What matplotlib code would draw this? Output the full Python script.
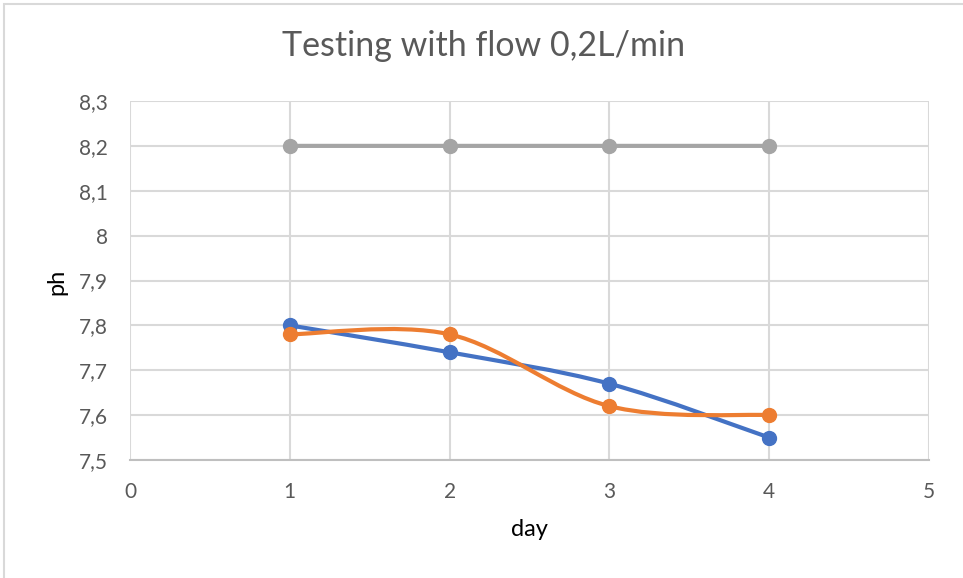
import numpy as np
import matplotlib.pyplot as plt
from matplotlib.path import Path
from matplotlib.patches import PathPatch, Rectangle
from matplotlib.ticker import FuncFormatter, MultipleLocator

# values
days = [1, 2, 3, 4]
ph_blue = [7.80, 7.74, 7.67, 7.55]
ph_orange = [7.78, 7.78, 7.62, 7.60]
ph_gray = [8.2, 8.2, 8.2, 8.2]

series = [(ph_gray, "#A5A5A5"), (ph_blue, "#4472C4"), (ph_orange, "#ED7D31")]

plt.rcParams['font.family'] = ['Lato', 'DejaVu Sans']
txt = "#595959"


# excel-like smoothed line: catmull-rom turned into cubic bezier segments
def smooth_path(x, y):
    pts = np.column_stack([x, y]).astype(float)
    verts = [pts[0]]
    codes = [Path.MOVETO]
    n = len(pts)
    for i in range(n - 1):
        p0 = pts[max(i - 1, 0)]
        p1 = pts[i]
        p2 = pts[i + 1]
        p3 = pts[min(i + 2, n - 1)]
        verts += [p1 + (p2 - p0) / 6, p2 - (p3 - p1) / 6, p2]
        codes += [Path.CURVE4] * 3
    return Path(verts, codes)


fig = plt.figure(figsize=(9.63, 5.78), dpi=100)
ax = fig.add_axes([130 / 963, 1 - 460 / 578, 799 / 963, 359 / 578])

# chart outline (only top/left show in the crop)
fig.patches.append(Rectangle((4 / 963, -0.1), 1.1, 1.1 - 4 / 578, transform=fig.transFigure,
                             fill=False, edgecolor="#D9D9D9", lw=1.5))

for vals, col in series:
    ax.add_patch(PathPatch(smooth_path(days, vals), fill=False, edgecolor=col, lw=3,
                           capstyle='round', joinstyle='round', zorder=3))
    ax.plot(days, vals, 'o', color=col, ms=10, zorder=4)

ax.set_xlim(0, 5)
ax.set_ylim(7.5, 8.3)
ax.xaxis.set_major_locator(MultipleLocator(1))
ax.yaxis.set_major_locator(MultipleLocator(0.1))
fmt = FuncFormatter(lambda v, p: f"{round(v, 1):g}".replace('.', ','))
ax.xaxis.set_major_formatter(fmt)
ax.yaxis.set_major_formatter(fmt)
ax.grid(True, color="#D9D9D9", lw=1.5)
ax.set_axisbelow(True)
for s in ['top', 'right', 'left']:
    ax.spines[s].set_visible(False)
ax.spines['bottom'].set_color("#BFBFBF")
ax.spines['bottom'].set_linewidth(1.5)
ax.tick_params(length=0, labelsize=15, labelcolor=txt)
ax.tick_params(axis='y', pad=16)
ax.tick_params(axis='x', pad=16)

fig.text(484 / 963, 1 - 46 / 578, "Testing with flow 0,2L/min", ha='center', va='center',
         fontsize=24.5, color=txt)
fig.text(529 / 963, 1 - 530 / 578, "day", ha='center', va='center', fontsize=17, color="black")
fig.text(57 / 963, 1 - 282 / 578, "ph", ha='center', va='center', fontsize=17, color="black",
         rotation=90)

fig.savefig("out.png", dpi=100)
